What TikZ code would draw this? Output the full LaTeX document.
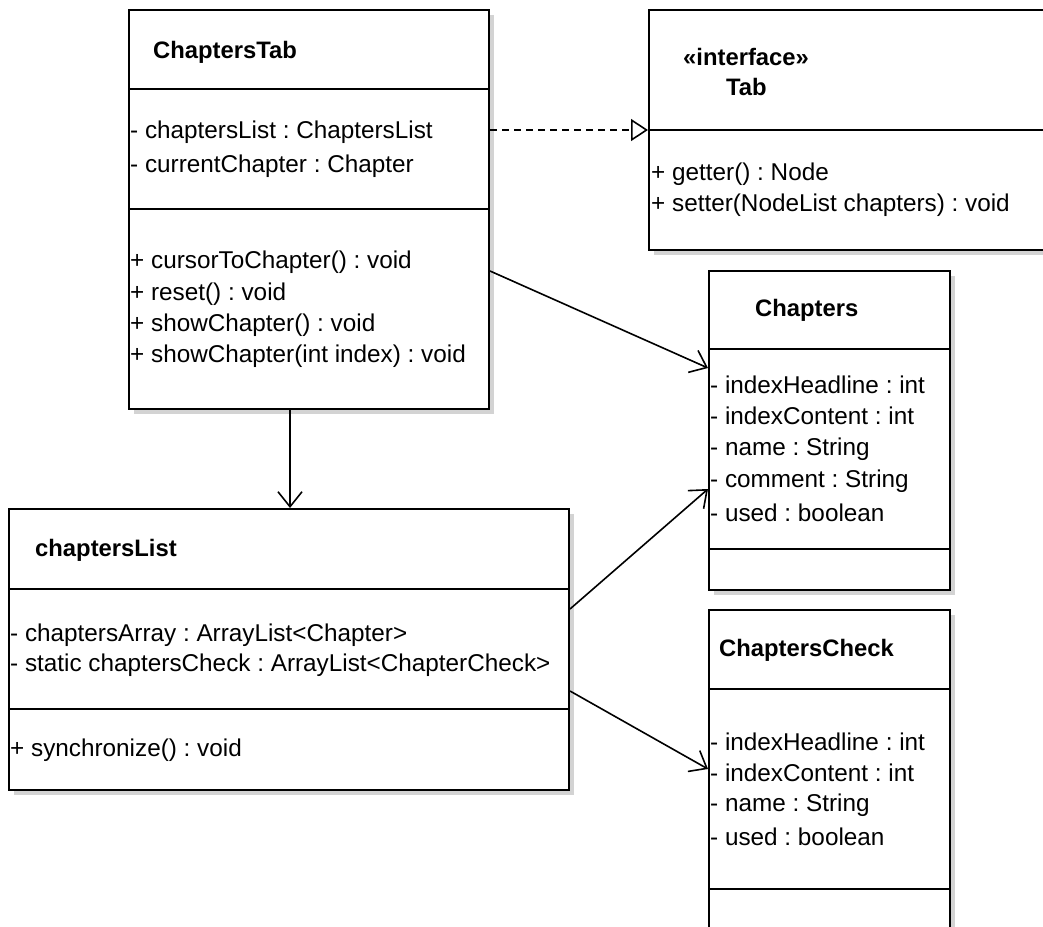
\documentclass[tikz,border=0pt]{standalone}
\usepackage{fontspec}
\setmainfont{Liberation Sans}
\usetikzlibrary{arrows.meta,shadows}
\definecolor{shadowgray}{RGB}{211,211,211}
\frenchspacing
\begin{document}
\begin{tikzpicture}[x=1pt,y=-1pt,
  umlbox/.style={draw=black, line width=2pt, fill=white, rectangle, inner sep=0pt, anchor=north west,
    drop shadow={shadow xshift=5pt, shadow yshift=-5pt, fill=shadowgray, opacity=1}},
  sepline/.style={line width=2pt},
  txt/.style={anchor=west, inner sep=0pt, font=\fontsize{24.3}{28}\selectfont},
  ttl/.style={anchor=west, inner sep=0pt, font=\fontsize{23.8}{28}\selectfont\bfseries},
  assoc/.style={line width=1.6pt, -{Straight Barb[length=15pt,width=24pt,line width=1.6pt]}},
  realize/.style={line width=1.6pt, dash pattern=on 7pt off 5pt,
    -{Triangle[open,length=17pt,width=22pt,line width=1.6pt,fill=white]}}
]
\useasboundingbox (0,0) rectangle (1043,926);
\clip (0,0) rectangle (1043,926);

% ---------- ChaptersTab ----------
\node[umlbox, minimum width=360pt, minimum height=399pt] (ct) at (128,9) {};
\draw[sepline] (ct.west |- 0,89) -- (ct.east |- 0,89);
\draw[sepline] (ct.west |- 0,209) -- (ct.east |- 0,209);
\node[ttl] (ctT) at (153,52) {ChaptersTab};
\node[txt] (ctA1) at (130,132) {- chaptersList : ChaptersList};
\node[txt] (ctA2) at (130,166) {- currentChapter : Chapter};
\node[txt] (ctM1) at (130,262) {+ cursorToChapter() : void};
\node[txt] (ctM2) at (130,294) {+ reset() : void};
\node[txt] (ctM3) at (130,325) {+ showChapter() : void};
\node[txt] (ctM4) at (130,356) {+ showChapter(int index) : void};

% ---------- Tab (interface) ----------
\node[umlbox, minimum width=420pt, minimum height=240pt] (tab) at (648,9) {};
\draw[sepline] (tab.west) -- (tab.east);
\node[ttl] (tabS) at (683,57) {«interface»};
\node[ttl] (tabT) at (726,87) {Tab};
\node[txt] (tabM1) at (651,174) {+ getter() : Node};
\node[txt] (tabM2) at (651,205) {+ setter(NodeList chapters) : void};

% ---------- Chapters ----------
\node[umlbox, minimum width=241pt, minimum height=319pt] (ch) at (708,270) {};
\draw[sepline] (ch.west |- 0,349) -- (ch.east |- 0,349);
\draw[sepline] (ch.west |- 0,549) -- (ch.east |- 0,549);
\node[ttl] (chT) at (755,310) {Chapters};
\node[txt] (chA1) at (710,385) {- indexHeadline : int};
\node[txt] (chA2) at (710,416) {- indexContent : int};
\node[txt] (chA3) at (710,449) {- name : String};
\node[txt] (chA4) at (710,481) {- comment : String};
\node[txt] (chA5) at (710,513) {- used : boolean};

% ---------- chaptersList ----------
\node[umlbox, minimum width=560pt, minimum height=281pt] (cl) at (8,508) {};
\draw[sepline] (cl.west |- 0,589) -- (cl.east |- 0,589);
\draw[sepline] (cl.west |- 0,709) -- (cl.east |- 0,709);
\node[ttl] (clT) at (35,550) {chaptersList};
\node[txt] (clA1) at (10,635) {- chaptersArray : ArrayList<Chapter>};
\node[txt] (clA2) at (10,665) {- static chaptersCheck : ArrayList<ChapterCheck>};
\node[txt] (clM1) at (10,750) {+ synchronize() : void};

% ---------- ChaptersCheck ----------
\node[umlbox, minimum width=241pt, minimum height=400pt] (cc) at (708,609) {};
\draw[sepline] (cc.west |- 0,689) -- (cc.east |- 0,689);
\draw[sepline] (cc.west |- 0,889) -- (cc.east |- 0,889);
\node[ttl] (ccT) at (719,650) {ChaptersCheck};
\node[txt] (ccA1) at (710,742) {- indexHeadline : int};
\node[txt] (ccA2) at (710,773) {- indexContent : int};
\node[txt] (ccA3) at (710,805) {- name : String};
\node[txt] (ccA4) at (710,837) {- used : boolean};

% ---------- connectors ----------
\draw[realize] ([yshift=79.5pt]ct.east) -- (tab.west);
\draw[assoc] ([yshift=-61.5pt]ct.east) -- ([yshift=62.5pt]ch.west);
\draw[assoc] ([xshift=-19pt]ct.south) -- ([xshift=1pt]cl.north);
\draw[assoc] ([yshift=40.5pt]cl.east) -- ([yshift=-58.5pt]ch.west);
\draw[assoc] ([yshift=-41.5pt]cl.east) -- ([yshift=41pt]cc.west);
\end{tikzpicture}
\end{document}
